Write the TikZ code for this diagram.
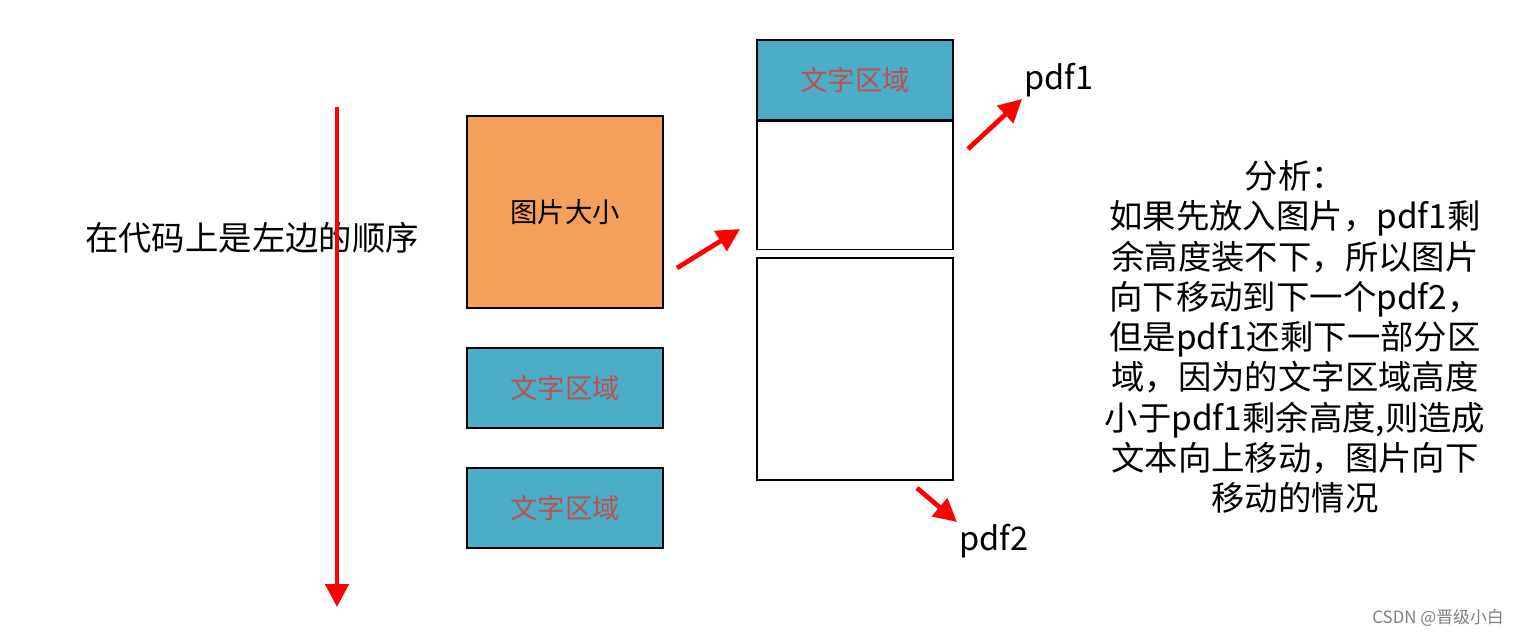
\documentclass[tikz,border=0pt]{standalone}
\usepackage{fontspec}
\setmainfont{Noto Sans CJK SC}
\usetikzlibrary{arrows.meta}
\definecolor{boxorange}{RGB}{244,160,90}
\definecolor{boxblue}{RGB}{75,172,198}
\definecolor{textred}{RGB}{192,80,77}
\tikzset{
	pagebox/.style = {draw, line width = 0.6pt, minimum width = 3.92cm, inner sep = 0pt},
	textbox/.style = {pagebox, fill = boxblue, minimum height = 1.6cm, text = textred, font = \fontsize{15.6}{18}\selectfont},
	redarrow/.style = {red, line width = 2.7pt, -{Triangle[length = 0.46cm, width = 0.46cm]}}
}
\begin{document}
\begin{tikzpicture}
	\useasboundingbox (0,0) rectangle (30.46,-12.72);
	\node [font = \fontsize{19}{23}\selectfont] (order) at (5.04,-4.76) {在代码上是左边的顺序};
	\coordinate (ordertop) at (6.74,-2.14);
	\coordinate (orderend) at (6.74,-12.14);
	\draw [redarrow] (ordertop) -- (orderend);
	% left column
	\node [pagebox, fill = boxorange, minimum height = 3.84cm, font = \fontsize{15.6}{18}\selectfont] (img) at (11.3,-4.24) {图片大小};
	\node [textbox] (txta) at (11.3,-7.76) {文字区域};
	\node [textbox] (txtb) at (11.3,-10.16) {文字区域};
	% right column
	\node [textbox] (pdftxt) at (17.1,-1.6) {文字区域};
	\node [pagebox, minimum height = 2.56cm, anchor = north] (pdfone) at (pdftxt.south) {};
	\node [pagebox, minimum height = 4.44cm] (pdftwo) at (17.1,-7.38) {};
	\node [anchor = west, inner sep = 1pt, font = \fontsize{18.5}{22}\selectfont] (lblone) at (20.44,-1.6) {pdf1};
	\node [anchor = west, inner sep = 1pt, font = \fontsize{18.5}{22}\selectfont] (lbltwo) at (19.14,-10.82) {pdf2};
	\coordinate (movefrom) at (13.54,-5.36);
	\coordinate (moveto) at (14.8,-4.58);
	\coordinate (onefrom) at (19.36,-2.98);
	\coordinate (twofrom) at (18.34,-9.76);
	\draw [redarrow] (movefrom) -- (moveto);
	\draw [redarrow] (onefrom) -- (lblone.south west);
	\draw [redarrow] (twofrom) -- (lbltwo.north west);
	% note
	\node [align = center, font = \fontsize{19}{22.9}\selectfont] (note) at (25.9,-6.74) {分析：\\如果先放入图片，pdf1剩\\余高度装不下，所以图片\\向下移动到下一个pdf2，\\但是pdf1还剩下一部分区\\域，因为的文字区域高度\\小于pdf1剩余高度,则造成\\文本向上移动，图片向下\\移动的情况};
	\node [anchor = east, text = gray, font = \fontsize{9.6}{11}\selectfont] (mark) at (30.2,-12.36) {CSDN @晋级小白};
\end{tikzpicture}
\end{document}
